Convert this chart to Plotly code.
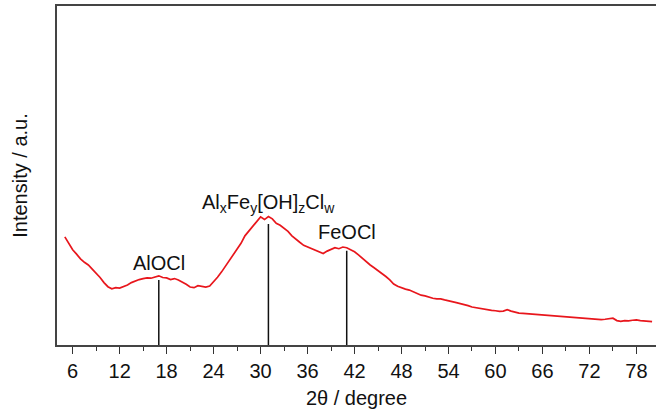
import plotly.graph_objects as go

two_theta = [5.0, 5.5, 6.0, 6.5, 7.0, 7.5, 8.0, 8.5, 9.0, 9.5,
             10.0, 10.5, 11.0, 11.5, 12.0, 12.5, 13.0, 13.5, 14.0, 14.5,
             15.0, 15.5, 16.0, 16.5, 17.0, 17.5, 18.0, 18.5, 19.0, 19.5,
             20.0, 20.5, 21.0, 21.5, 22.0, 22.5, 23.0, 23.5, 24.0, 24.5,
             25.0, 25.5, 26.0, 26.5, 27.0, 27.5, 28.0, 28.5, 29.0, 29.5,
             30.0, 30.5, 31.0, 31.5, 32.0, 32.5, 33.0, 33.5, 34.0, 34.5,
             35.0, 35.5, 36.0, 36.5, 37.0, 37.5, 38.0, 38.5, 39.0, 39.5,
             40.0, 40.5, 41.0, 41.5, 42.0, 42.5, 43.0, 43.5, 44.0, 44.5,
             45.0, 45.5, 46.0, 46.5, 47.0, 47.5, 48.0, 48.5, 49.0, 49.5,
             50.0, 50.5, 51.0, 51.5, 52.0, 52.5, 53.0, 53.5, 54.0, 54.5,
             55.0, 55.5, 56.0, 56.5, 57.0, 57.5, 58.0, 58.5, 59.0, 59.5,
             60.0, 60.5, 61.0, 61.5, 62.0, 62.5, 63.0, 63.5, 64.0, 64.5,
             65.0, 65.5, 66.0, 66.5, 67.0, 67.5, 68.0, 68.5, 69.0, 69.5,
             70.0, 70.5, 71.0, 71.5, 72.0, 72.5, 73.0, 73.5, 74.0, 74.5,
             75.0, 75.5, 76.0, 76.5, 77.0, 77.5, 78.0, 78.5, 79.0, 79.5,
             80.0]

intensity = [319, 300, 281, 268, 254, 244, 236, 224, 212, 199,
             184, 172, 166, 169, 168, 172, 177, 184, 189, 193,
             196, 198, 197, 201, 204, 199, 198, 193, 196, 192,
             186, 179, 171, 169, 175, 172, 171, 174, 186, 200,
             215, 232, 248, 266, 283, 300, 322, 336, 349, 366,
             378, 370, 379, 372, 359, 353, 343, 335, 322, 311,
             303, 294, 289, 283, 279, 274, 270, 277, 283, 287,
             284, 289, 287, 282, 275, 266, 255, 246, 236, 228,
             220, 212, 202, 192, 180, 173, 168, 165, 162, 157,
             151, 147, 145, 141, 138, 136, 136, 133, 131, 128,
             125, 122, 120, 116, 112, 110, 107, 104, 103, 102,
             101, 99, 100, 104, 100, 96, 94, 93, 92, 91,
             90, 89, 88, 87, 87, 85, 84, 85, 82, 81,
             80, 79, 79, 78, 77, 77, 76, 75, 76, 77,
             79, 72, 70, 72, 71, 73, 74, 72, 71, 70,
             69]

peak_pos = [17, 31, 41]
peak_top = [192, 357, 278]
peak_labels = ["AlOCl", "Al<sub>x</sub>Fe<sub>y</sub>[OH]<sub>z</sub>Cl<sub>w</sub>", "FeOCl"]
label_shift = [4, 6, 6]

tick_vals = [6, 12, 18, 24, 30, 36, 42, 48, 54, 60, 66, 72, 78]

FONT = "Arial, Liberation Sans, sans-serif"

fig = go.Figure()

# reference peak lines
for xp, yt in zip(peak_pos, peak_top):
    fig.add_trace(go.Scatter(x=[xp, xp], y=[0, yt], mode="lines",
                             line=dict(color="#111111", width=1.5),
                             showlegend=False, hoverinfo="skip"))

fig.add_trace(go.Scatter(x=two_theta, y=intensity, mode="lines",
                         line=dict(color="#e8161c", width=1.7),
                         showlegend=False))

for xp, yt, lab, sh in zip(peak_pos, peak_top, peak_labels, label_shift):
    fig.add_annotation(x=xp, y=yt, text=lab, showarrow=False,
                       xanchor="center", yanchor="bottom", yshift=sh,
                       font=dict(family=FONT, size=20, color="#111111"))

fig.update_layout(
    width=656, height=416,
    margin=dict(l=57, r=0, t=6, b=71),
    paper_bgcolor="white", plot_bgcolor="white",
    font=dict(family=FONT, size=20, color="#111111"),
    xaxis=dict(range=[4, 80.5], tickmode="array", tickvals=tick_vals,
               ticks="outside", ticklen=7, tickwidth=1.3, tickcolor="#333333",
               minor=dict(ticks="outside", ticklen=4, tickwidth=1.3,
                          tickcolor="#333333", dtick=3, tick0=3),
               showline=True, linecolor="#444444", linewidth=2, mirror=True,
               showgrid=False, zeroline=False,
               tickfont=dict(family=FONT, size=20, color="#111111"),
               title=dict(text="2θ / degree", standoff=10,
                          font=dict(family=FONT, size=20, color="#111111"))),
    yaxis=dict(range=[0, 1000], showticklabels=False, ticks="",
               showline=True, linecolor="#444444", linewidth=2,
               showgrid=False, zeroline=False,
               title=dict(text="Intensity / a.u.", standoff=22,
                          font=dict(family=FONT, size=20, color="#111111"))),
)

fig.write_html("out.html")
